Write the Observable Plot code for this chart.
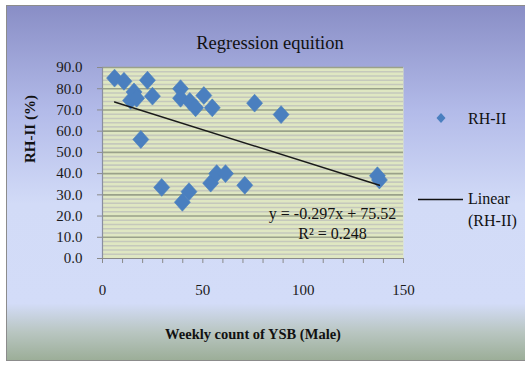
<!DOCTYPE html>
<html>
<head>
<meta charset="utf-8">
<script src="https://cdn.jsdelivr.net/npm/d3@7"></script>
<script src="https://cdn.jsdelivr.net/npm/@observablehq/plot@0.6"></script>
<style>
  html, body { margin: 0; padding: 0; background: #ffffff; }
  #chart { position: relative; width: 525px; height: 365px; overflow: hidden; font-family: "Liberation Serif", "DejaVu Serif", serif; }
  #panel {
    position: absolute; left: 6px; top: 5px; width: 540px; height: 356px;
    border: 1.5px solid #8c8c8c; box-sizing: border-box;
    background: linear-gradient(to bottom, #898ec6 0%, #b3bbe9 30%, #d2dbf7 56%, #d3dcf8 84%, #b9c6c2 92%, #9cae98 100%);
  }
  #plot { position: absolute; left: 0; top: 0; }
  #plot svg, #plot svg text { font-family: "Liberation Serif", "DejaVu Serif", serif !important; }
  #legend { position: absolute; left: 0; top: 0; width: 525px; height: 365px; pointer-events: none; }
  #legend .item { position: absolute; font-size: 16px; color: #111; line-height: 22px; }
</style>
</head>
<body>
<div id="chart">
  <div id="panel"></div>
  <div id="plot"></div>
  <div id="legend">
    <svg width="525" height="365" style="position:absolute;left:0;top:0">
      <path d="M441,113 L445.5,118 L441,123 L436.5,118 Z" fill="#4a7fbf"></path>
      <line x1="418" x2="463" y1="199.5" y2="199.5" stroke="#111" stroke-width="1.4"></line>
    </svg>
    <div class="item" style="left:468px;top:108px">RH-II</div>
    <div class="item" style="left:468px;top:188px">Linear<br>(RH-II)</div>
  </div>
</div>
<script>
// Weekly count of YSB males against relative humidity (RH-II, %)
const ysbCount = [6.0, 10.7, 14.0, 15.7, 17.0, 19.1, 22.4, 24.9, 29.5, 38.9, 38.9, 39.8, 43.1,
                  43.5, 46.4, 50.5, 53.9, 54.7, 56.9, 61.3, 70.9, 75.8, 89.0, 137.0, 138.0];
const rhII     = [85.0, 83.5, 74.5, 78.5, 75.5, 56.1, 84.0, 76.5, 33.5, 80.0, 75.5, 26.5, 31.5,
                  74.0, 71.0, 76.8, 35.5, 71.0, 40.0, 40.0, 34.5, 73.2, 67.8, 39.0, 37.0];

// Fitted linear trend as reported on the chart
const slope = -0.297;
const intercept = 75.52;
const rSquared = 0.248;

// Axis ticks
const xTicks = [0, 10, 20, 30, 40, 50, 60, 70, 80, 90, 100, 110, 120, 130, 140, 150];
const xLabelled = [0, 50, 100, 150];
const yTicks = [0, 10, 20, 30, 40, 50, 60, 70, 80, 90];
const yMinor = [2, 4, 6, 8, 12, 14, 16, 18, 22, 24, 26, 28, 32, 34, 36, 38, 42, 44, 46, 48,
                52, 54, 56, 58, 62, 64, 66, 68, 72, 74, 76, 78, 82, 84, 86, 88];

const points = ysbCount.map((x, i) => ({x, y: rhII[i]}));
const xMin = d3.min(ysbCount), xMax = d3.max(ysbCount);
const trend = [xMin, xMax].map(x => ({x, y: slope * x + intercept}));

const serif = "Liberation Serif";

// Excel-style diamond marker, slightly taller than wide
const diamond = {
  draw(context, size) {
    const w = Math.sqrt(size / Math.PI), h = w * 1.12;
    context.moveTo(0, -h);
    context.lineTo(w, 0);
    context.lineTo(0, h);
    context.lineTo(-w, 0);
    context.closePath();
  }
};

const chart = Plot.plot({
  width: 525,
  height: 365,
  marginLeft: 102,
  marginRight: 122,
  marginTop: 67,
  marginBottom: 107,
  style: "background: transparent; font-family: 'Liberation Serif', serif; font-size: 14px; overflow: visible;",
  x: { domain: [0, 150] },
  y: { domain: [0, 90] },
  marks: [
    Plot.frame({ fill: "#dfe7c2", stroke: null }),
    Plot.ruleY(yMinor, { stroke: "#c5c8bc", strokeWidth: 1.6 }),
    Plot.ruleY(yTicks.filter(d => d > 0), { stroke: "#9aa18a", strokeWidth: 1.6 }),
    Plot.ruleX([0], { stroke: "#8a8f9e", strokeWidth: 1.2 }),
    Plot.ruleY([0], { stroke: "#8a8a8a", strokeWidth: 1.2 }),
    Plot.axisY({
      ticks: yTicks, tickFormat: d => d.toFixed(1), tickSize: 5, tickPadding: 15,
      stroke: "#8a8a8a", color: "#1a1a1a", label: null, fontSize: 15, fontFamily: serif
    }),
    Plot.axisX({
      ticks: xTicks, tickFormat: d => xLabelled.includes(d) ? String(d) : "",
      tickSize: 5, tickPadding: 21, stroke: "#8a8a8a", color: "#1a1a1a", label: null, fontSize: 15, fontFamily: serif
    }),
    Plot.dot(points, { x: "x", y: "y", r: 8, symbol: diamond, fill: "#4a7fbf", stroke: "#4a7fbf", strokeWidth: 0.6 }),
    Plot.line(trend, { x: "x", y: "y", stroke: "#1a1a1a", strokeWidth: 1.4 }),
    Plot.text([`y = ${slope}x + ${intercept}`], {
      frameAnchor: "bottom-right", dx: -71, dy: -44.5, textAnchor: "middle", lineAnchor: "middle",
      fontSize: 16, fill: "#111", fontFamily: serif
    }),
    Plot.text([`R² = ${rSquared}`], {
      frameAnchor: "bottom-right", dx: -71, dy: -25, textAnchor: "middle", lineAnchor: "middle",
      fontSize: 16, fill: "#111", fontFamily: serif
    }),
    Plot.text(["Regression equition"], {
      frameAnchor: "top", dx: 17, dy: -24, lineAnchor: "middle", fontSize: 18.5, fill: "#111", fontFamily: serif
    }),
    Plot.text(["Weekly count of YSB (Male)"], {
      frameAnchor: "bottom", dy: 76, lineAnchor: "middle", fontSize: 14.5, fontWeight: "bold", fill: "#111", fontFamily: serif
    }),
    Plot.text(["RH-II (%)"], {
      frameAnchor: "left", dx: -72, rotate: -90, lineAnchor: "middle", fontSize: 15, fontWeight: "bold", fill: "#111", fontFamily: serif
    })
  ]
});

document.getElementById("plot").appendChild(chart);
</script>
</body>
</html>
